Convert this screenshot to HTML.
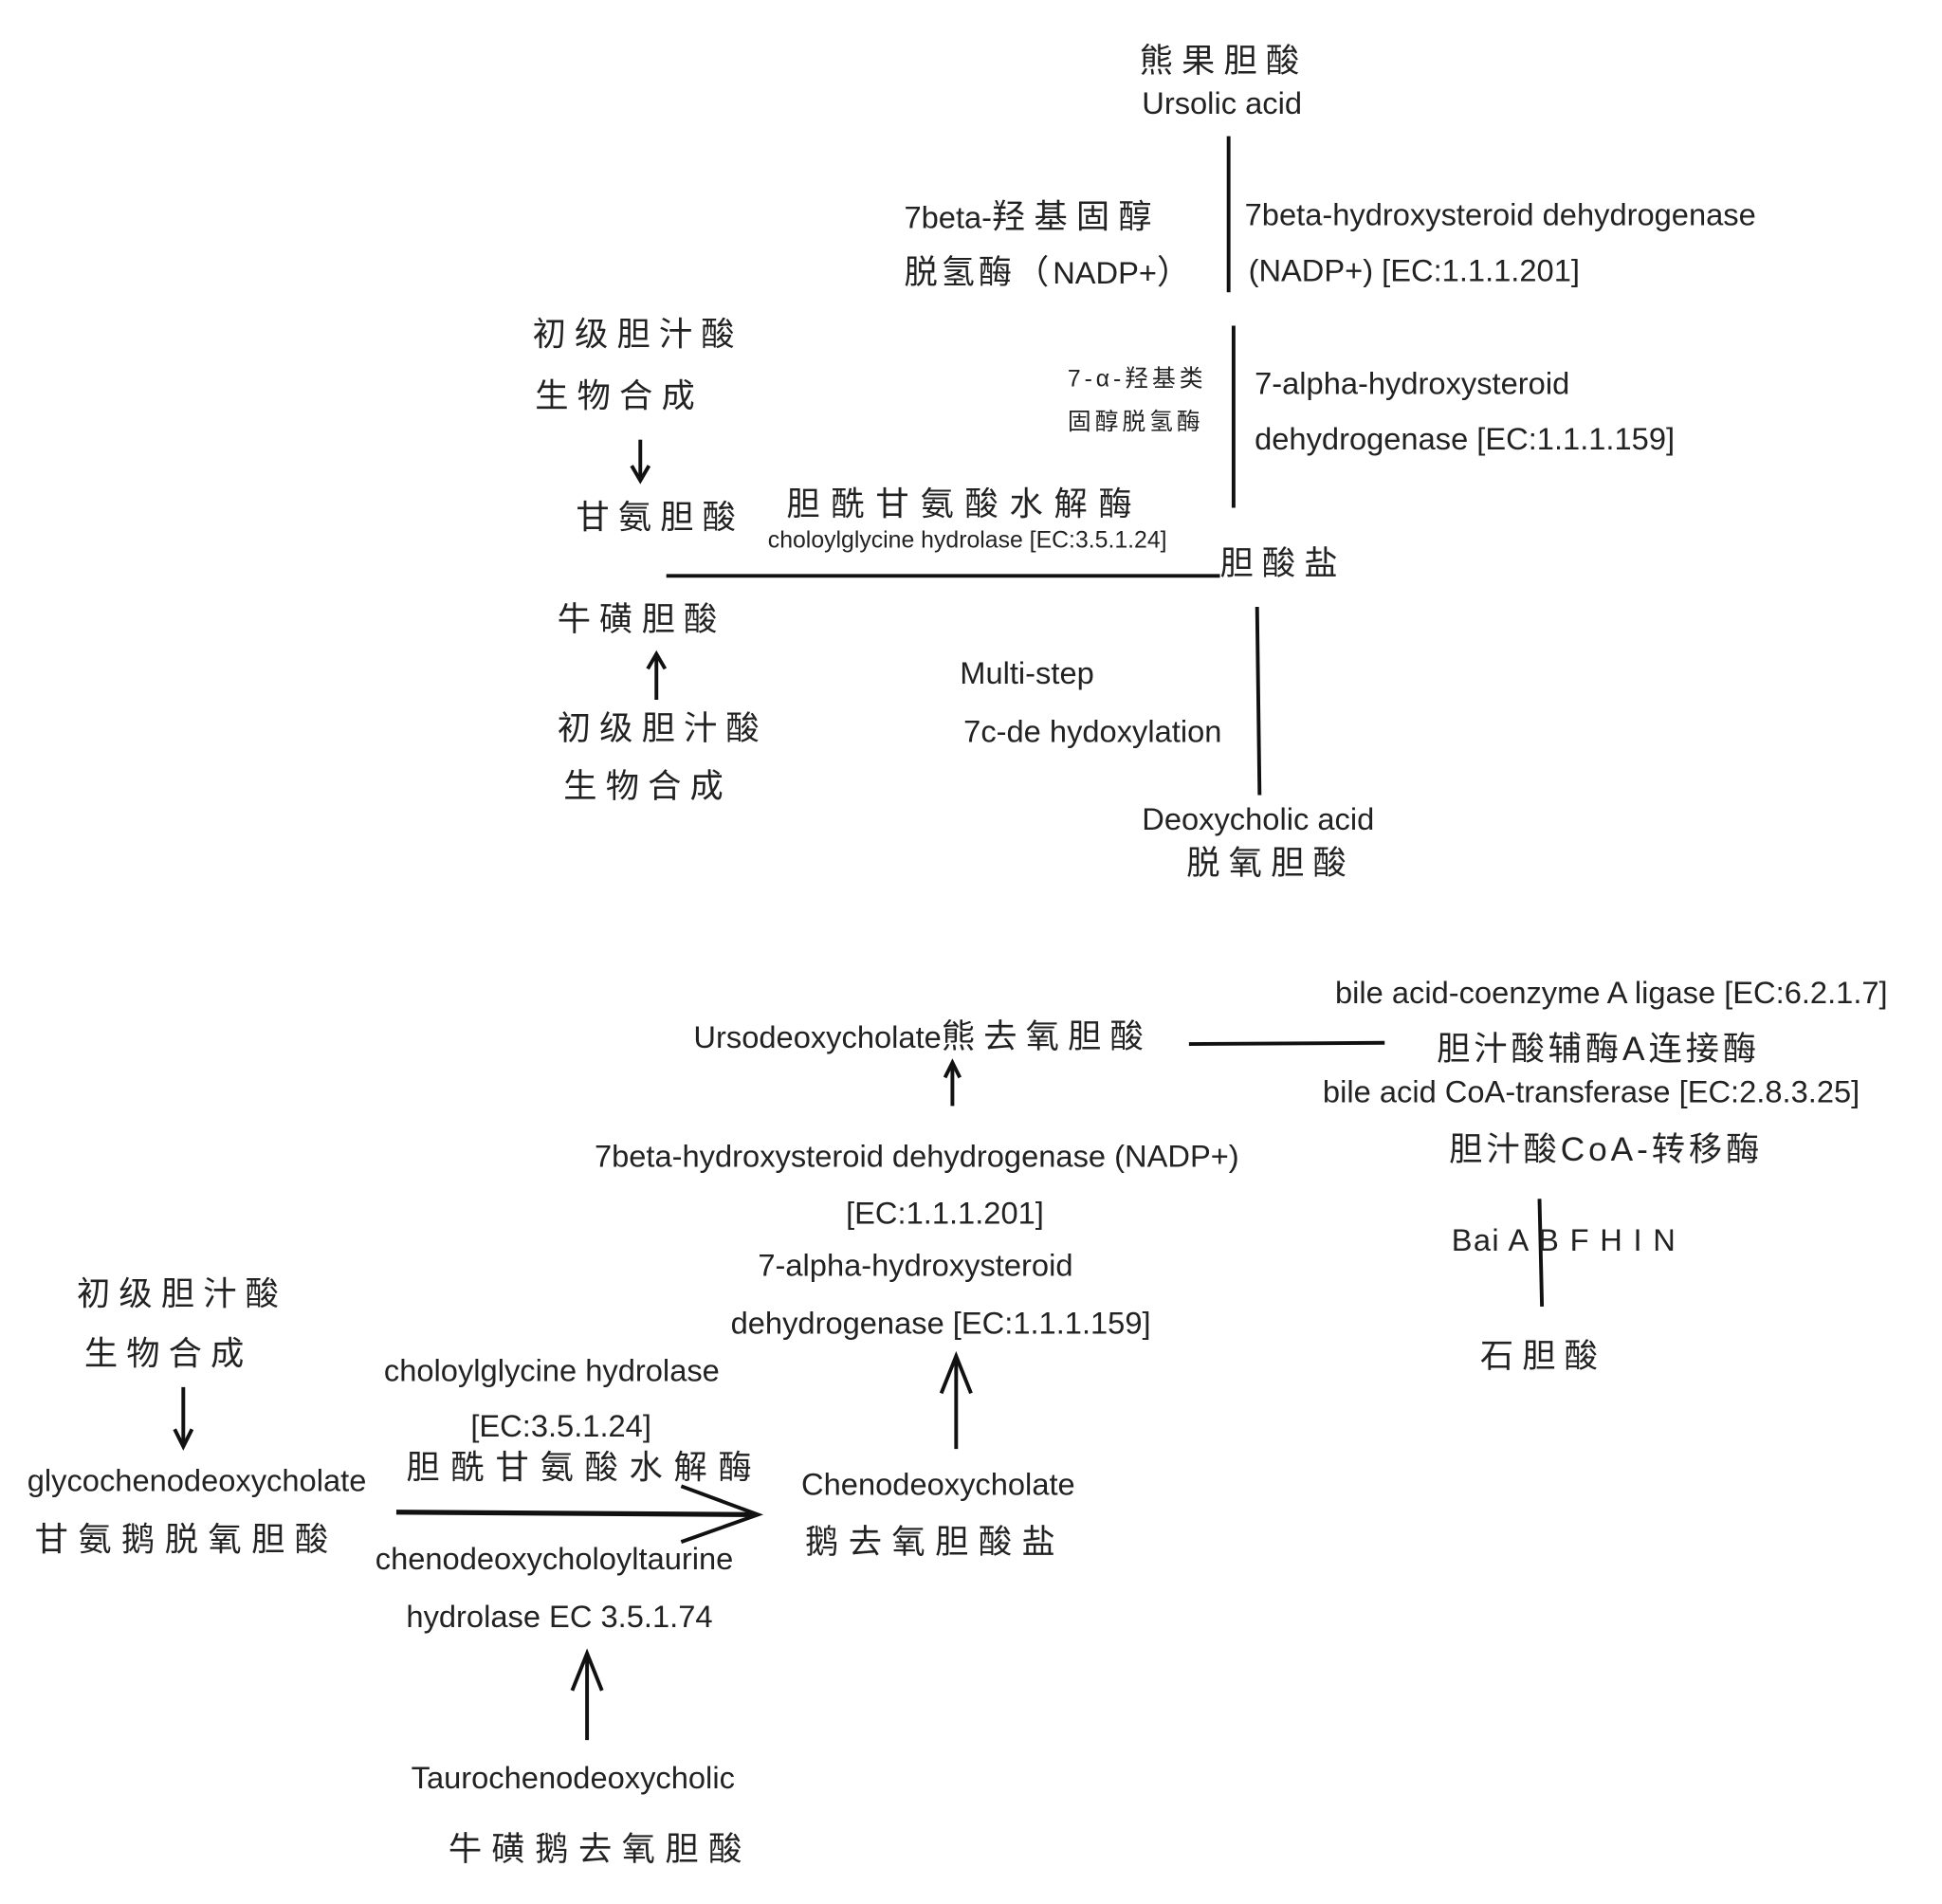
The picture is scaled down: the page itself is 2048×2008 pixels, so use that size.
<!DOCTYPE html>
<html><head><meta charset="utf-8">
<style>
html,body{margin:0;padding:0;background:#fff;}
body{width:2048px;height:2007px;overflow:hidden;position:relative;}
#c{position:absolute;left:0;top:0;width:1568px;height:1537px;transform:scale(1.30612);transform-origin:0 0;}
.t{position:absolute;white-space:nowrap;font-family:"Liberation Sans","Noto Sans CJK SC",sans-serif;font-size:25px;line-height:1;color:#222;}
.z{font-size:27px;letter-spacing:7px;}
.s{font-size:19px;}
.sz{font-size:19px;letter-spacing:3px;}
.n{letter-spacing:0;font-size:25px;}
svg{position:absolute;left:0;top:0;}
</style></head><body><div id="c">
<svg width="1568" height="1537" viewBox="0 0 1568 1537">
<g stroke="#111" stroke-width="3" fill="none">
<line x1="992" y1="110" x2="992" y2="236"/>
<line x1="996" y1="263" x2="996" y2="410"/>
<line x1="517" y1="355" x2="517" y2="386"/>
<polyline points="510,376 517,388 524,376"/>
<line x1="538" y1="465" x2="985" y2="465"/>
<line x1="530" y1="565" x2="530" y2="530"/>
<polyline points="523,540 530,528 537,540"/>
<line x1="1015" y1="490" x2="1017" y2="642"/>
<line x1="960" y1="843" x2="1118" y2="842"/>
<line x1="1243" y1="968" x2="1245" y2="1055"/>
<line x1="769" y1="893" x2="769" y2="860"/>
<polyline points="763,870 769,858 775,870"/>
<line x1="772" y1="1170" x2="772" y2="1097"/>
<polyline points="760,1125 772,1095 784,1125"/>
<line x1="148" y1="1120" x2="148" y2="1166"/>
<polyline points="141,1154 148,1168 155,1154"/>
<line x1="320" y1="1221" x2="610" y2="1223" stroke-width="4"/>
<polyline points="550,1200 612,1223 550,1245"/>
<line x1="474" y1="1405" x2="474" y2="1337"/>
<polyline points="462,1365 474,1335 486,1365"/>
</g></svg>
<div class="t z" style="left:920px;top:36px">熊果胆酸</div>
<div class="t" style="left:922px;top:72px">Ursolic acid</div>
<div class="t z" style="left:730px;top:162px"><span class="n">7beta-</span>羟基固醇</div>
<div class="t z" style="left:730px;top:207px;letter-spacing:3px">脱氢酶（<span class="n">NADP+</span>）</div>
<div class="t" style="left:1005px;top:162px">7beta-hydroxysteroid dehydrogenase</div>
<div class="t" style="left:1008px;top:207px">(NADP+) [EC:1.1.1.201]</div>
<div class="t sz" style="left:862px;top:297px">7-α-羟基类</div>
<div class="t sz" style="left:862px;top:332px">固醇脱氢酶</div>
<div class="t" style="left:1013px;top:298px">7-alpha-hydroxysteroid</div>
<div class="t" style="left:1013px;top:343px">dehydrogenase [EC:1.1.1.159]</div>
<div class="t z" style="left:430px;top:257px">初级胆汁酸</div>
<div class="t z" style="left:432px;top:307px">生物合成</div>
<div class="t z" style="left:465px;top:405px">甘氨胆酸</div>
<div class="t z" style="left:635px;top:394px;letter-spacing:9px">胆酰甘氨酸水解酶</div>
<div class="t s" style="left:620px;top:427px">choloylglycine hydrolase [EC:3.5.1.24]</div>
<div class="t z" style="left:985px;top:442px">胆酸盐</div>
<div class="t z" style="left:450px;top:487px">牛磺胆酸</div>
<div class="t z" style="left:450px;top:575px">初级胆汁酸</div>
<div class="t z" style="left:455px;top:622px">生物合成</div>
<div class="t" style="left:775px;top:532px">Multi-step</div>
<div class="t" style="left:778px;top:579px">7c-de hydoxylation</div>
<div class="t" style="left:922px;top:650px">Deoxycholic acid</div>
<div class="t z" style="left:958px;top:684px">脱氧胆酸</div>
<div class="t" style="left:560px;top:824px">Ursodeoxycholate<span style="font-size:27px;letter-spacing:7px">熊去氧胆酸</span></div>
<div class="t" style="left:1078px;top:790px">bile acid-coenzyme A ligase [EC:6.2.1.7]</div>
<div class="t z" style="left:1160px;top:834px;letter-spacing:3px">胆汁酸辅酶A连接酶</div>
<div class="t" style="left:1068px;top:870px">bile acid CoA-transferase [EC:2.8.3.25]</div>
<div class="t z" style="left:1170px;top:915px;letter-spacing:3px">胆汁酸CoA-转移酶</div>
<div class="t" style="left:1172px;top:990px;letter-spacing:1px">Bai A B F H I N</div>
<div class="t z" style="left:1195px;top:1082px">石胆酸</div>
<div class="t" style="left:480px;top:922px">7beta-hydroxysteroid dehydrogenase (NADP+)</div>
<div class="t" style="left:683px;top:968px">[EC:1.1.1.201]</div>
<div class="t" style="left:612px;top:1010px">7-alpha-hydroxysteroid</div>
<div class="t" style="left:590px;top:1057px">dehydrogenase [EC:1.1.1.159]</div>
<div class="t z" style="left:62px;top:1032px">初级胆汁酸</div>
<div class="t z" style="left:68px;top:1080px">生物合成</div>
<div class="t" style="left:22px;top:1184px">glycochenodeoxycholate</div>
<div class="t z" style="left:28px;top:1230px;letter-spacing:8px">甘氨鹅脱氧胆酸</div>
<div class="t" style="left:310px;top:1095px">choloylglycine hydrolase</div>
<div class="t" style="left:380px;top:1140px">[EC:3.5.1.24]</div>
<div class="t z" style="left:328px;top:1172px;letter-spacing:9px">胆酰甘氨酸水解酶</div>
<div class="t" style="left:303px;top:1247px">chenodeoxycholoyltaurine</div>
<div class="t" style="left:328px;top:1294px">hydrolase EC 3.5.1.74</div>
<div class="t" style="left:332px;top:1424px">Taurochenodeoxycholic</div>
<div class="t z" style="left:362px;top:1480px;letter-spacing:8px">牛磺鹅去氧胆酸</div>
<div class="t" style="left:647px;top:1187px">Chenodeoxycholate</div>
<div class="t z" style="left:650px;top:1232px;letter-spacing:8px">鹅去氧胆酸盐</div>
</div></body></html>
